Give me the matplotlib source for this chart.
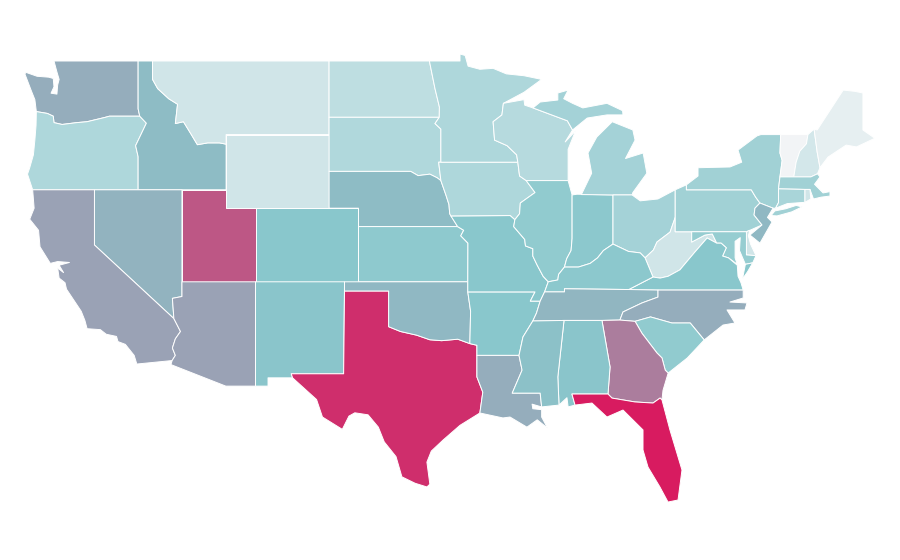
import matplotlib
matplotlib.use("Agg")
import matplotlib.pyplot as plt
from matplotlib.colors import LinearSegmentedColormap, Normalize

# Approximate state outlines, longitude / latitude
WA = [(-122.75,49),(-117.03,49),(-117.03,46.4),(-116.92,46),(-118.98,46),(-119.3,45.93),(-120.5,45.7),(-121.2,45.65),(-122.2,45.55),(-122.75,45.65),(-122.8,46),(-123.2,46.15),(-123.95,46.25),(-124.05,46.9),(-124.3,47.4),(-124.73,48.3),(-124.65,48.38),(-123.9,48.17),(-123.1,48.12),(-122.8,48.05),(-122.75,47.6),(-122.95,47.25),(-122.55,47.2),(-122.5,47.7),(-122.4,48),(-122.55,48.4)]
OR = [(-123.95,46.25),(-123.2,46.15),(-122.8,46),(-122.75,45.65),(-122.2,45.55),(-121.2,45.65),(-120.5,45.7),(-119.3,45.93),(-118.98,46),(-116.92,46),(-116.47,45.62),(-116.9,44.9),(-117.2,44.4),(-117.03,43.8),(-117.03,42),(-124.2,42),(-124.55,42.85),(-124.4,43.2),(-124.15,43.9),(-124.05,44.7),(-123.97,45.5)]
ID = [(-117.03,49),(-116.05,49),(-116.05,48),(-115.7,47.5),(-114.95,46.95),(-114.35,46.65),(-114.5,45.6),(-113.95,45.7),(-113.45,45.05),(-113,44.45),(-112.3,44.55),(-111.5,44.55),(-111.05,44.48),(-111.05,42),(-117.03,42),(-117.03,43.8),(-117.2,44.4),(-116.9,44.9),(-116.47,45.62),(-116.92,46),(-117.03,46.4)]
MT = [(-116.05,49),(-104.05,49),(-104.05,45),(-111.05,45),(-111.05,44.48),(-111.5,44.55),(-112.3,44.55),(-113,44.45),(-113.45,45.05),(-113.95,45.7),(-114.5,45.6),(-114.35,46.65),(-114.95,46.95),(-115.7,47.5),(-116.05,48)]
WY = [(-111.05,45),(-104.05,45),(-104.05,41),(-111.05,41)]
ND = [(-104.05,49),(-97.23,49),(-96.85,47.5),(-96.55,46.5),(-96.56,45.94),(-104.05,45.94)]
SD = [(-104.05,45.94),(-96.56,45.94),(-96.85,45.6),(-96.45,45.3),(-96.45,43.5),(-96.6,43.5),(-96.45,42.5),(-96.7,42.65),(-97.2,42.85),(-98,42.77),(-98.5,43),(-104.05,43)]
NE = [(-104.05,43),(-98.5,43),(-98,42.77),(-97.2,42.85),(-96.7,42.65),(-96.45,42.5),(-96.1,41.7),(-95.9,41.2),(-95.85,40.7),(-95.31,40),(-102.05,40),(-102.05,41),(-104.05,41)]
KS = [(-102.05,40),(-95.31,40),(-94.9,39.8),(-95.1,39.5),(-94.61,39.1),(-94.62,37),(-102.05,37)]
CO = [(-109.05,41),(-102.05,41),(-102.05,37),(-109.05,37)]
UT = [(-114.05,42),(-111.05,42),(-111.05,41),(-109.05,41),(-109.05,37),(-114.05,37)]
NV = [(-120,42),(-114.05,42),(-114.05,36.2),(-114.7,36.1),(-114.6,35),(-120,39)]
CA = [(-124.2,42),(-120,42),(-120,39),(-114.6,35),(-114.15,34.3),(-114.5,33.9),(-114.7,33.4),(-114.5,33),(-114.72,32.72),(-117.12,32.53),(-117.3,33),(-117.9,33.6),(-118.4,33.75),(-118.5,34.03),(-119.2,34.15),(-119.6,34.4),(-120.5,34.45),(-120.65,34.9),(-120.9,35.4),(-121.9,36.6),(-122,36.95),(-122.4,37.2),(-122.5,37.75),(-122.1,37.5),(-122.4,37.9),(-121.7,38.05),(-122.5,38.1),(-123,38),(-123.7,38.9),(-123.8,39.8),(-124.4,40.4),(-124.1,41)]
AZ = [(-114.05,37),(-109.05,37),(-109.05,31.33),(-111.07,31.33),(-114.8,32.5),(-114.72,32.72),(-114.5,33),(-114.7,33.4),(-114.5,33.9),(-114.15,34.3),(-114.6,35),(-114.7,36.1),(-114.05,36.2)]
NM = [(-109.05,37),(-103,37),(-103.06,32),(-106.62,32),(-106.53,31.78),(-108.2,31.78),(-108.2,31.33),(-109.05,31.33)]
TX = [(-103,36.5),(-100,36.5),(-100,34.56),(-99.2,34.3),(-98.1,34.1),(-97.2,33.85),(-96.4,33.8),(-95.3,33.88),(-94.48,33.64),(-94,33.55),(-94,31.83),(-93.6,31),(-93.8,29.87),(-95.15,29.2),(-96.3,28.4),(-97.1,27.8),(-97.4,27.2),(-97.2,26),(-97.4,25.85),(-98.2,26.05),(-99.1,26.4),(-99.5,27.5),(-100.3,28.3),(-100.7,29.1),(-101.4,29.77),(-102.3,29.88),(-102.7,29.7),(-103.15,28.98),(-104.5,29.65),(-104.9,30.6),(-106.53,31.78),(-106.62,32),(-103.06,32)]
OK = [(-103,37),(-94.62,37),(-94.62,36.45),(-94.43,35.4),(-94.48,33.64),(-95.3,33.88),(-96.4,33.8),(-97.2,33.85),(-98.1,34.1),(-99.2,34.3),(-100,34.56),(-100,36.5),(-103,36.5)]
AR = [(-94.62,36.45),(-90.05,36.45),(-90.37,35.95),(-89.7,35.95),(-89.95,35.3),(-90.2,34.87),(-90.87,34),(-91.14,33),(-94,33),(-94,33.55),(-94.48,33.64),(-94.43,35.4)]
LA = [(-94,33),(-91.14,33),(-90.93,32.2),(-91.6,30.95),(-89.7,30.95),(-89.6,30.2),(-90.25,30.35),(-90.2,30.1),(-89.6,30.05),(-89.6,29.65),(-89.2,29.05),(-89.9,29.5),(-90.6,29.1),(-91.75,29.65),(-92.23,29.6),(-93.8,29.87),(-93.6,31),(-94,31.83)]
MO = [(-95.77,40.58),(-91.73,40.6),(-91.42,40.38),(-91.5,40),(-90.75,39.3),(-90.7,38.95),(-90.2,38.8),(-90.2,38.4),(-89.9,37.9),(-89.5,37.3),(-89.15,37),(-89.4,36.45),(-89.7,35.95),(-90.37,35.95),(-90.05,36.45),(-94.62,36.45),(-94.62,37),(-94.61,39.1),(-95.1,39.5),(-94.9,39.8),(-95.31,40)]
IA = [(-96.45,43.5),(-91.22,43.5),(-91.1,42.75),(-90.65,42.5),(-90.05,41.85),(-91.05,41.28),(-91.1,40.7),(-91.42,40.38),(-91.73,40.6),(-95.77,40.58),(-95.85,40.7),(-95.9,41.2),(-96.1,41.7),(-96.45,42.5),(-96.6,43.5)]
MN = [(-97.23,49),(-95.15,49),(-95.15,49.38),(-94.8,49.3),(-94.6,48.72),(-93.8,48.55),(-92.9,48.6),(-92,48.3),(-90.8,48.2),(-89.6,48),(-90.8,47.3),(-92.2,46.7),(-92.3,46.07),(-92.9,45.7),(-92.8,44.7),(-91.95,44.4),(-91.3,43.9),(-91.22,43.5),(-96.45,43.5),(-96.45,45.3),(-96.85,45.6),(-96.56,45.94),(-96.55,46.5),(-96.85,47.5)]
WI = [(-92.2,46.7),(-90.8,46.9),(-90.75,46.6),(-90.19,46.45),(-87.85,45.75),(-87.5,45.25),(-88,44.6),(-87.3,45.2),(-87.8,44.2),(-87.8,43.4),(-87.8,42.5),(-90.65,42.5),(-91.1,42.75),(-91.22,43.5),(-91.3,43.9),(-91.95,44.4),(-92.8,44.7),(-92.9,45.7),(-92.3,46.07)]
IL = [(-90.65,42.5),(-87.8,42.5),(-87.53,41.72),(-87.53,39.35),(-87.6,38.7),(-87.9,38.25),(-88.05,37.8),(-88.45,37.4),(-88.5,37.1),(-89.15,37),(-89.5,37.3),(-89.9,37.9),(-90.2,38.4),(-90.2,38.8),(-90.7,38.95),(-90.75,39.3),(-91.5,40),(-91.42,40.38),(-91.1,40.7),(-91.05,41.28),(-90.05,41.85)]
IN = [(-87.53,41.72),(-87.2,41.76),(-84.75,41.72),(-84.75,39.05),(-85.4,38.7),(-85.8,38.3),(-86.3,38),(-87.1,37.8),(-88.05,37.8),(-87.9,38.25),(-87.6,38.7),(-87.53,39.35)]
MI_LOWER = [(-86.9,41.74),(-84.75,41.72),(-83.45,41.72),(-83.4,41.85),(-82.45,42.9),(-82.7,44),(-83.9,43.7),(-83.25,44.7),(-83.4,45.25),(-84.8,45.7),(-85.85,44.87),(-86.45,44),(-86.2,42.9)]
MI_UPPER = [(-90.19,46.45),(-89.7,46.77),(-88.5,46.88),(-88.5,47.26),(-87.8,47.42),(-88.1,46.95),(-87.5,46.7),(-86.8,46.45),(-85.16,46.7),(-84.1,46.3),(-84.07,46.07),(-85.16,46.07),(-86.5,45.9),(-87.5,45.25),(-87.85,45.75)]
OH = [(-84.75,41.72),(-83.45,41.72),(-82.9,41.4),(-81.7,41.5),(-80.52,42),(-80.52,40.5),(-80.87,39.7),(-81.76,39.16),(-82,38.73),(-82.57,38.3),(-82.9,38.57),(-83.7,38.65),(-84.75,39.05)]
WV = [(-80.52,40.5),(-80.52,39.72),(-79.4,39.72),(-79.4,39.16),(-78.5,39.54),(-78,39.6),(-77.7,39.1),(-78.35,39.38),(-79.2,38.6),(-80.2,37.65),(-81,37.3),(-81.55,37.2),(-82.03,37.26),(-82.57,38.3),(-82,38.73),(-81.76,39.16),(-80.87,39.7)]
PA = [(-80.52,42),(-79.76,42.27),(-79.76,42),(-75.35,42),(-75.05,41.6),(-74.76,41.28),(-75.1,41),(-75.16,40.63),(-74.62,40.09),(-75.44,39.8),(-75.68,39.72),(-80.52,39.72)]
NY = [(-79.76,42),(-79.76,42.27),(-78.97,42.75),(-78.97,43.2),(-76.8,43.24),(-76,43.5),(-76.25,44.16),(-74.96,44.93),(-74.7,45),(-73.35,45),(-73.4,44),(-73.25,43.6),(-73.4,42.7),(-73.5,42.05),(-73.5,41.3),(-73.7,41),(-73.87,41),(-74.76,41.28),(-75.05,41.6),(-75.35,42)]
LONG_ISLAND = [(-74,40.6),(-73.75,40.85),(-73,40.97),(-72.3,41.15),(-71.9,41.07),(-72.6,40.8),(-73.6,40.58)]
NJ = [(-74.76,41.28),(-73.87,41),(-74.25,40.5),(-73.94,40.25),(-74.76,39.1),(-75.44,39.54),(-74.62,40.09),(-75.16,40.63),(-75.1,41)]
VT = [(-73.35,45),(-71.5,45),(-71.6,44.5),(-72.05,44.1),(-72.3,43.5),(-72.46,42.7),(-73.4,42.7),(-73.25,43.6),(-73.4,44)]
NH = [(-71.5,45),(-71.08,45.3),(-70.87,44.05),(-70.68,43.2),(-70.85,42.87),(-71.3,42.7),(-72.46,42.7),(-72.3,43.5),(-72.05,44.1),(-71.6,44.5)]
ME = [(-71.08,45.3),(-70.87,45.25),(-69.85,46.5),(-69.1,47.42),(-68.3,47.35),(-67.76,47.26),(-67.76,45.25),(-66.95,44.8),(-68.2,44.33),(-68.9,44.43),(-70.13,43.78),(-70.68,43.2),(-70.87,44.05)]
MA = [(-73.5,42.05),(-73.4,42.7),(-72.46,42.7),(-71.3,42.7),(-70.85,42.87),(-70.68,42.7),(-71.05,42.3),(-70.47,41.83),(-70,41.9),(-70,41.66),(-70.6,41.6),(-71.12,41.5),(-71.36,42.02),(-71.7,42.02)]
CT = [(-73.5,42.05),(-71.7,42.02),(-71.7,41.32),(-72.9,41.25),(-73.7,41),(-73.5,41.3)]
RI = [(-71.7,42.02),(-71.36,42.02),(-71.3,41.5),(-71.7,41.32)]
DE = [(-75.68,39.72),(-75.44,39.8),(-75.55,39.5),(-75.4,39.05),(-75.03,38.42),(-75.68,38.46)]
MD = [(-79.4,39.72),(-75.68,39.72),(-75.68,38.46),(-75.03,38.42),(-75.25,38.03),(-75.75,37.95),(-76.15,38.7),(-76.1,39.4),(-76.45,39.2),(-76.45,38.3),(-76.3,37.95),(-76.9,38.3),(-77.3,38.4),(-77.05,38.85),(-77.4,39.1),(-77.7,39.1),(-78,39.6),(-78.5,39.54),(-79.4,39.16)]
VA = [(-83.68,36.58),(-81.69,36.55),(-75.9,36.55),(-76.05,36.95),(-76.25,37.3),(-76.3,37.9),(-76.9,38.3),(-77.3,38.4),(-77.05,38.85),(-77.4,39.1),(-77.7,39.1),(-78.35,39.38),(-79.2,38.6),(-80.2,37.65),(-81,37.3),(-81.55,37.2),(-82.03,37.26)]
VA_SHORE = [(-75.25,38.03),(-75.75,37.95),(-75.95,37.15),(-75.6,37.55)]
KY = [(-89.4,36.45),(-88.05,36.45),(-88.05,36.62),(-83.68,36.58),(-82.03,37.26),(-82.57,38.3),(-82.9,38.57),(-83.7,38.65),(-84.75,39.05),(-85.4,38.7),(-85.8,38.3),(-86.3,38),(-87.1,37.8),(-88.05,37.8),(-88.45,37.4),(-88.5,37.1),(-89.15,37)]
TN = [(-90.2,34.87),(-89.95,35.3),(-89.7,35.95),(-89.4,36.45),(-88.05,36.45),(-88.05,36.62),(-83.68,36.58),(-81.69,36.55),(-81.69,36.17),(-82.78,35.85),(-84.07,35.36),(-84.28,34.92),(-85.5,34.9),(-88.08,34.9)]
NC = [(-84.28,34.92),(-84.07,35.36),(-82.78,35.85),(-81.69,36.17),(-81.69,36.55),(-75.9,36.55),(-75.9,36.12),(-76.8,35.9),(-75.64,35.85),(-75.78,35.47),(-77,35.47),(-76.46,34.76),(-77.27,34.65),(-78.55,33.84),(-79.5,34.76),(-80.74,34.76),(-82.2,35.09),(-83.25,34.85)]
SC = [(-83.25,34.85),(-82.2,35.09),(-80.74,34.76),(-79.5,34.76),(-78.55,33.84),(-79.3,33.2),(-79.7,32.86),(-81,32.04),(-81.2,32.2),(-81.42,32.86),(-81.76,33.13),(-82.78,34.2)]
GA = [(-85.5,34.9),(-84.28,34.92),(-83.25,34.85),(-82.78,34.2),(-81.76,33.13),(-81.42,32.86),(-81.2,32.2),(-81,32.04),(-81.35,31.1),(-81.42,30.58),(-81.55,30.68),(-82.03,30.41),(-83.26,30.47),(-84.82,30.68),(-85.09,30.9),(-84.95,32.37)]
AL = [(-88.08,34.9),(-85.5,34.9),(-84.95,32.37),(-85.09,30.9),(-87.54,30.9),(-87.33,30.3),(-87.8,30.2),(-87.88,30.7),(-88.42,30.3),(-88.5,31.83)]
MS = [(-90.2,34.87),(-88.08,34.9),(-88.5,31.83),(-88.42,30.3),(-89.6,30.2),(-89.7,30.95),(-91.6,30.95),(-90.93,32.2),(-91.14,33),(-90.87,34)]
FL = [(-87.54,30.9),(-85.09,30.9),(-84.82,30.68),(-83.26,30.47),(-82.03,30.41),(-81.55,30.68),(-81.42,30.58),(-80.88,28.95),(-80.06,26.77),(-80.33,25.14),(-81.01,25.03),(-81.56,25.85),(-82.37,26.93),(-82.71,27.86),(-82.71,28.95),(-84.07,30.03),(-85.16,29.65),(-86.18,30.41),(-87.33,30.3)]

# Relative value of each state, estimated from its shade
state_values = {
    "Washington": 49, "Oregon": 26, "Idaho": 44, "Montana": 13, "Wyoming": 13,
    "North Dakota": 20, "South Dakota": 25, "Nebraska": 44, "Kansas": 38, "Colorado": 40,
    "Utah": 79, "Nevada": 47, "California": 53, "Arizona": 53, "New Mexico": 41,
    "Texas": 93, "Oklahoma": 45, "Arkansas": 40, "Louisiana": 49, "Missouri": 40,
    "Iowa": 26, "Minnesota": 26, "Wisconsin": 23, "Illinois": 37, "Indiana": 39,
    "Michigan": 30, "Ohio": 30, "West Virginia": 13, "Pennsylvania": 31, "New York": 31,
    "New Jersey": 45, "Vermont": 0, "New Hampshire": 12, "Maine": 5, "Massachusetts": 31,
    "Connecticut": 28, "Rhode Island": 13, "Delaware": 13, "Maryland": 35, "Virginia": 40,
    "Kentucky": 39, "Tennessee": 46, "North Carolina": 49, "South Carolina": 37,
    "Georgia": 66, "Alabama": 41, "Mississippi": 42, "Florida": 100,
}
state_shapes = {
    "Washington": [WA], "Oregon": [OR], "Idaho": [ID], "Montana": [MT], "Wyoming": [WY],
    "North Dakota": [ND], "South Dakota": [SD], "Nebraska": [NE], "Kansas": [KS], "Colorado": [CO],
    "Utah": [UT], "Nevada": [NV], "California": [CA], "Arizona": [AZ], "New Mexico": [NM],
    "Texas": [TX], "Oklahoma": [OK], "Arkansas": [AR], "Louisiana": [LA], "Missouri": [MO],
    "Iowa": [IA], "Minnesota": [MN], "Wisconsin": [WI], "Illinois": [IL], "Indiana": [IN],
    "Michigan": [MI_LOWER, MI_UPPER], "Ohio": [OH], "West Virginia": [WV], "Pennsylvania": [PA],
    "New York": [NY, LONG_ISLAND], "New Jersey": [NJ], "Vermont": [VT], "New Hampshire": [NH],
    "Maine": [ME], "Massachusetts": [MA], "Connecticut": [CT], "Rhode Island": [RI],
    "Delaware": [DE], "Maryland": [MD], "Virginia": [VA, VA_SHORE], "Kentucky": [KY],
    "Tennessee": [TN], "North Carolina": [NC], "South Carolina": [SC], "Georgia": [GA],
    "Alabama": [AL], "Mississippi": [MS], "Florida": [FL],
}

cmap = LinearSegmentedColormap.from_list(
    "shade", [(0.0, "#f2f4f6"), (0.4, "#89c7cc"), (1.0, "#d81b60")])
norm = Normalize(0, 100)

fig = plt.figure(figsize=(9, 5.6), dpi=100, facecolor="white")
ax = fig.add_axes([0, 0, 1, 1])
ax.set_xlim(-126.42, -65.24)
ax.set_ylim(21.88, 52.315)
ax.axis("off")

for name, parts in state_shapes.items():
    colour = cmap(norm(state_values[name]))
    for part in parts:
        xs, ys = zip(*part)
        ax.fill(xs, ys, facecolor=colour, edgecolor="white", linewidth=0.7, joinstyle="round")

fig.savefig("out.png", dpi=100)
